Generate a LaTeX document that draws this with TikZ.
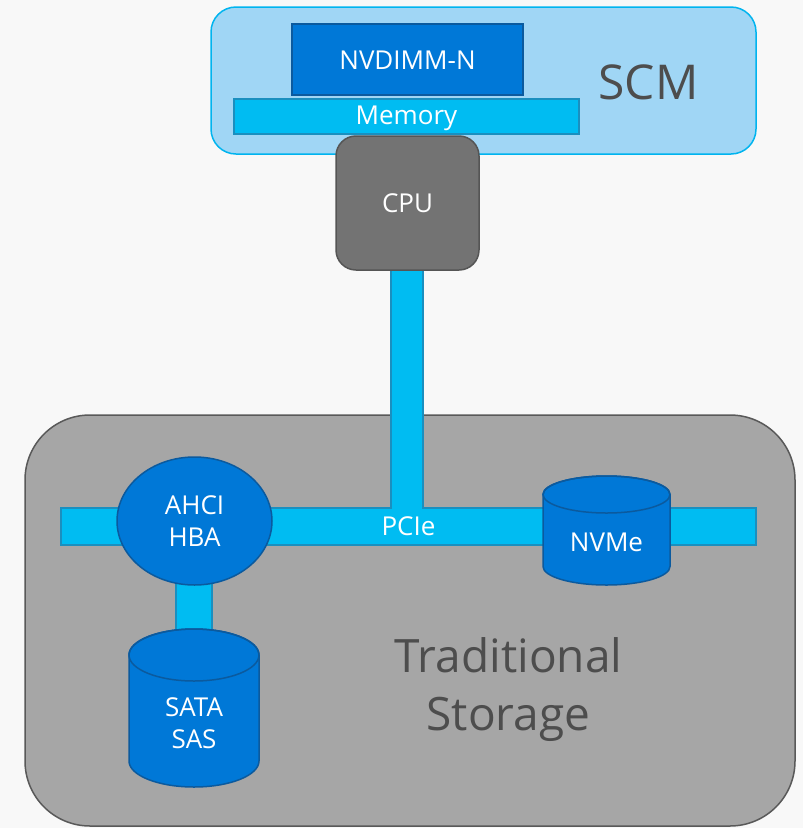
\documentclass[tikz,border=0pt]{standalone}
\usepackage{fontspec}
\setmainfont{Open Sans}
\usetikzlibrary{shapes.geometric}
\definecolor{bgc}{HTML}{F8F8F8}
\definecolor{scmfill}{HTML}{A0D6F5}
\definecolor{scmline}{HTML}{00B4EF}
\definecolor{nvfill}{HTML}{0078D7}
\definecolor{nvline}{HTML}{0B5A9E}
\definecolor{barfill}{HTML}{00BCF2}
\definecolor{barline}{HTML}{1A8FBF}
\definecolor{cpufill}{HTML}{737373}
\definecolor{cpuline}{HTML}{555555}
\definecolor{stfill}{HTML}{A6A6A6}
\definecolor{stline}{HTML}{595959}
\definecolor{bigtext}{HTML}{4D4D4D}
\begin{document}
\begin{tikzpicture}[x=1pt,y=1pt,
  lbl/.style={text=white,font=\fontsize{26}{32}\selectfont,align=center},
  bigl/.style={text=bigtext,font=\fontsize{46}{58}\selectfont},
  box/.style={anchor=north west,inner sep=0pt,outer sep=0pt},
  bar/.style={box,fill=barfill,draw=barline,line width=1.2pt},
  blue/.style={fill=nvfill,draw=nvline,line width=1.5pt}]
\fill[bgc] (0,0) rectangle (803,-828);
\useasboundingbox (0,0) rectangle (803,-828);

% SCM group
\node[box,fill=scmfill,draw=scmline,line width=1.5pt,rounded corners=25pt,
  minimum width=545pt,minimum height=147pt] (scm) at (211,-7) {};
\node[box,blue,minimum width=231pt,minimum height=71pt] (nvdimm) at (292,-24) {};
\node[lbl] (nvdimmlabel) at ([yshift=-1pt]nvdimm.center) {NVDIMM-N};
\node[bar,minimum width=345pt,minimum height=35pt] (memory) at (234,-99) {};
\node[lbl] (memlabel) at ([yshift=-2pt]memory.center) {Memory};
\node[bigl,font=\fontsize{48}{58}\selectfont] (scmlabel) at (648.5,-82) {SCM};

% storage group
\node[box,fill=stfill,draw=stline,line width=1.5pt,rounded corners=65pt,
  minimum width=770pt,minimum height=411pt] (storage) at (25,-415) {};

% PCIe bars
\node[bar,minimum width=32pt,minimum height=240pt] (pcieup) at (391,-270) {};
\node[bar,lbl,minimum width=695pt,minimum height=37pt] (pcie) at (61,-508) {PCIe};
\fill[barfill] (pcieup.south west) ++(0.7pt,3pt) rectangle ([xshift=-0.7pt,yshift=-3pt]pcieup.south east);

% CPU
\node[box,fill=cpufill,draw=cpuline,line width=1.5pt,rounded corners=20pt,
  minimum width=143pt,minimum height=134pt,lbl,anchor=north west] (cpu) at (336,-136) {CPU};

% HBA to SATA bar
\node[bar,minimum width=36pt,minimum height=55pt] (sasbar) at (176,-580) {};

% AHCI HBA
\node[ellipse,blue,lbl,minimum width=155pt,minimum height=128pt,inner sep=0pt] (hba) at (194.5,-521) {AHCI\\HBA};

% SATA SAS cylinder
\path[blue] (129,-655) -- (129,-761) arc[start angle=180,end angle=360,x radius=65,y radius=26]
  -- (259,-655) arc[start angle=0,end angle=180,x radius=65,y radius=26] -- cycle;
\draw[nvline,line width=1.5pt] (194,-655) ellipse[x radius=65,y radius=26];
\node[lbl] (sata) at (194,-723) {SATA\\SAS};

% NVMe cylinder
\path[blue] (543,-494.5) -- (543,-566.5) arc[start angle=180,end angle=360,x radius=63.5,y radius=18.5]
  -- (670,-494.5) arc[start angle=0,end angle=180,x radius=63.5,y radius=18.5] -- cycle;
\draw[nvline,line width=1.5pt] (606.5,-494.5) ellipse[x radius=63.5,y radius=18.5];
\node[lbl] (nvme) at (606.5,-542) {NVMe};

% Traditional Storage label
\node[bigl,anchor=base] (trad) at (508.5,-672) {Traditional};
\node[bigl,anchor=base] (stor) at (508.5,-730) {Storage};
\end{tikzpicture}
\end{document}
